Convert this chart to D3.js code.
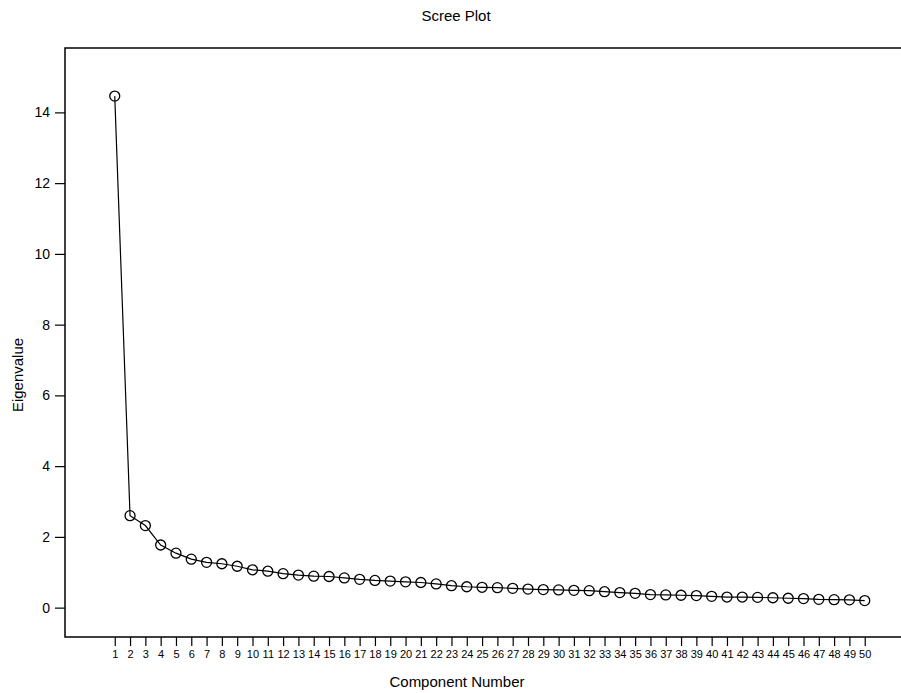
<!DOCTYPE html>
<html><head><meta charset="utf-8">
<script src="https://cdn.jsdelivr.net/npm/d3@7/dist/d3.min.js"></script>
<style>
body{margin:0;background:#fff;}
text{font-family:"Liberation Sans",Arial,Helvetica,sans-serif;fill:#000;}
</style></head>
<body><svg id="c" width="901" height="693"></svg>
<script>
const components = d3.range(1, 51);
const eigenvalues = [14.46, 2.60, 2.32, 1.77, 1.54, 1.37, 1.28, 1.24, 1.17, 1.07,
  1.03, 0.96, 0.92, 0.89, 0.88, 0.84, 0.80, 0.77, 0.75, 0.73,
  0.71, 0.67, 0.62, 0.59, 0.575, 0.565, 0.545, 0.525, 0.51, 0.50,
  0.49, 0.48, 0.45, 0.425, 0.405, 0.37, 0.36, 0.35, 0.34, 0.32,
  0.30, 0.30, 0.29, 0.28, 0.265, 0.255, 0.235, 0.225, 0.22, 0.20];
const yTicks = [0, 2, 4, 6, 8, 10, 12, 14];
const title = "Scree Plot";
const xTitle = "Component Number";
const yTitle = "Eigenvalue";

const svg = d3.select("#c");
const L = 65, R = 901, T = 48, B = 637;
const x = d3.scaleLinear().domain([-2.25, 52.37]).range([L, R]);
const y = d3.scaleLinear().domain([-0.83, 15.82]).range([B, T]);

// frame: left, top, bottom
svg.append("path")
  .attr("d", `M${R},${T}H${L}V${B}H${R}`)
  .attr("fill", "none").attr("stroke", "#000").attr("stroke-width", 1.5);

// y axis ticks
const yAxis = d3.axisLeft(y).tickValues(yTicks).tickSize(10).tickPadding(5).tickFormat(d3.format("d"));
const gy = svg.append("g").attr("transform", `translate(${L},0)`).call(yAxis);
gy.select(".domain").remove();
gy.selectAll("text").attr("font-size", 14).style("font-family", '"Liberation Sans",Arial,sans-serif');
gy.selectAll("line").attr("stroke-width", 1.2);

// x axis ticks
const xAxis = d3.axisBottom(x).tickValues(components).tickSize(9).tickPadding(4).tickFormat(d3.format("d"));
const gx = svg.append("g").attr("transform", `translate(0,${B})`).call(xAxis);
gx.select(".domain").remove();
gx.selectAll("text").attr("font-size", 11).style("font-family", '"Liberation Sans",Arial,sans-serif');
gx.selectAll("line").attr("stroke-width", 1.2);

// line
const data = components.map((c, i) => ({c, v: eigenvalues[i]}));
svg.append("path").datum(data)
  .attr("fill", "none").attr("stroke", "#000").attr("stroke-width", 1.2)
  .attr("d", d3.line().x(d => x(d.c)).y(d => y(d.v)));

svg.selectAll("circle.pt").data(data).join("circle")
  .attr("class", "pt")
  .attr("cx", d => x(d.c)).attr("cy", d => y(d.v)).attr("r", 5)
  .attr("fill", "none").attr("stroke", "#000").attr("stroke-width", 1.3);

// titles
svg.append("text").attr("x", 456).attr("y", 21).attr("text-anchor", "middle")
  .attr("font-size", 15).text(title);
svg.append("text").attr("x", 457).attr("y", 687).attr("text-anchor", "middle")
  .attr("font-size", 15).text(xTitle);
svg.append("text").attr("transform", "translate(23,375) rotate(-90)").attr("text-anchor", "middle")
  .attr("font-size", 15).text(yTitle);
</script></body></html>
